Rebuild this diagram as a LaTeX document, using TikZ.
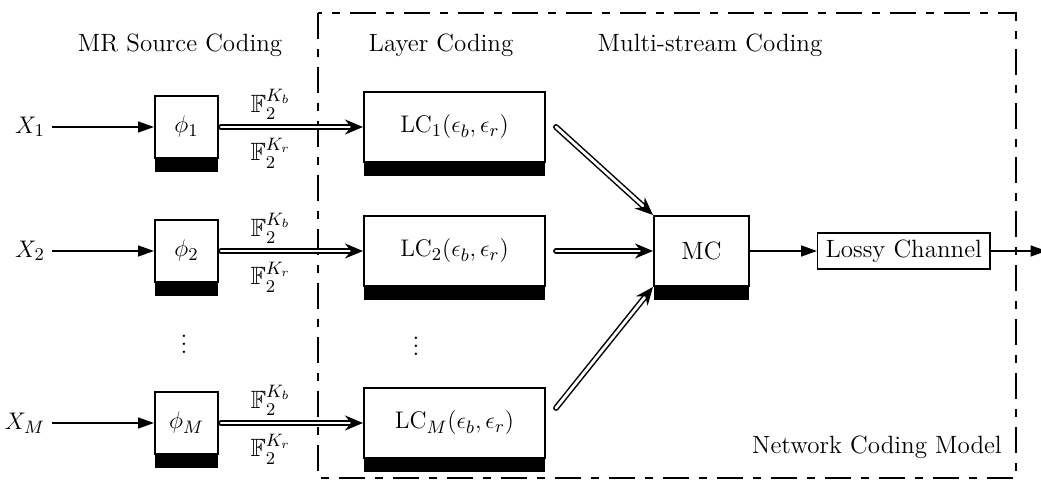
\documentclass[tikz,border=0pt]{standalone}
\usepackage{amsmath}
\usepackage{amssymb}
\usetikzlibrary{positioning}
\usetikzlibrary{calc}
\usetikzlibrary{arrows.meta}
\usetikzlibrary{shadows}

\begin{document}
\begin{tikzpicture}[font=\fontsize{12.5}{15}\selectfont,
        coder/.style={rectangle, align=center, draw=black, line width=1pt, fill=white, inner sep=0pt, general shadow={fill=black, shadow yshift=-7pt}},
        source/.style={coder, minimum width=31.5pt, minimum height=31pt},
        layer/.style={coder, minimum width=90.5pt, minimum height=35pt},
        mixer/.style={coder, minimum width=47.5pt, minimum height=35pt},
        channel/.style={rectangle, draw=black, line width=0.6pt, inner xsep=4pt, inner ysep=0pt, minimum height=18pt},
        flow/.style={line width=0.8pt, -{Triangle[length=8pt, width=5.5pt]}},
        stream/.style={double, double distance=1.4pt, line width=0.75pt, line cap=round, -{Stealth[length=9pt, width=7.5pt]}},
        frame/.style={line width=0.8pt, dash pattern=on 13pt off 5pt on 4pt off 5pt}]

        \useasboundingbox (0pt,0pt) rectangle (520.5pt,-242.5pt);

        % network coding part
        \draw[frame] (159pt,-6.5pt) rectangle (508pt,-239pt);

        \node (srctitle) at (90pt,-22.5pt) {MR Source Coding};
        \node (lctitle) at (220.5pt,-22.5pt) {Layer Coding};
        \node (mstitle) at (355pt,-22.5pt) {Multi-stream Coding};
        \node (nctitle) at (438.5pt,-223.5pt) {Network Coding Model};

        \node[layer] (lc1) at (227.25pt,-63.5pt) {$\mathrm{LC}_1(\epsilon_b, \epsilon_r)$};
        \node[layer] (lc2) [below=26pt of lc1] {$\mathrm{LC}_2(\epsilon_b, \epsilon_r)$};
        \node[layer] (lcM) [below=50pt of lc2] {$\mathrm{LC}_M(\epsilon_b, \epsilon_r)$};

        \node[source] (phi1) [left=72pt of lc1] {$\phi_1$};
        \node[source] (phi2) [left=72pt of lc2] {$\phi_2$};
        \node[source] (phiM) [left=72pt of lcM] {$\phi_M$};

        \node (x1) [left=51pt of phi1] {$X_1$};
        \node (x2) [left=51pt of phi2] {$X_2$};
        \node (xM) [left=51pt of phiM] {$X_M$};

        \node (dotsphi) at (92pt,-169pt) {$\vdots$};
        \node (dotslc) at (208pt,-170pt) {$\vdots$};

        \node[mixer] (mc) [right=53.5pt of lc2] {MC};
        \node[channel] (lossy) [right=33.5pt of mc] {Lossy Channel};
        \coordinate[right=28pt of lossy] (out);

        \draw[flow] (x1) -- (phi1);
        \draw[flow] (x2) -- (phi2);
        \draw[flow] (xM) -- (phiM);

        \draw[stream] ([xshift=1pt]phi1.east) -- (lc1) node[pos=0.35, above] {$\mathbb{F}_2^{K_b}$} node[pos=0.35, below, yshift=-2pt] {$\mathbb{F}_2^{K_r}$};
        \draw[stream] ([xshift=1pt]phi2.east) -- (lc2) node[pos=0.35, above] {$\mathbb{F}_2^{K_b}$} node[pos=0.35, below, yshift=-2pt] {$\mathbb{F}_2^{K_r}$};
        \draw[stream] ([xshift=1pt]phiM.east) -- (lcM) node[pos=0.35, above] {$\mathbb{F}_2^{K_b}$} node[pos=0.35, below, yshift=-2pt] {$\mathbb{F}_2^{K_r}$};

        \draw[stream] ([xshift=5pt]lc1.east) -- (mc.north west);
        \draw[stream] ([xshift=5pt]lc2.east) -- (mc.west);
        \draw[stream] ([xshift=5pt, yshift=7.5pt]lcM.east) -- (mc.south west);

        \draw[flow] (mc) -- (lossy);
        \draw[flow] (lossy) -- (out);
    \end{tikzpicture}
\end{document}
